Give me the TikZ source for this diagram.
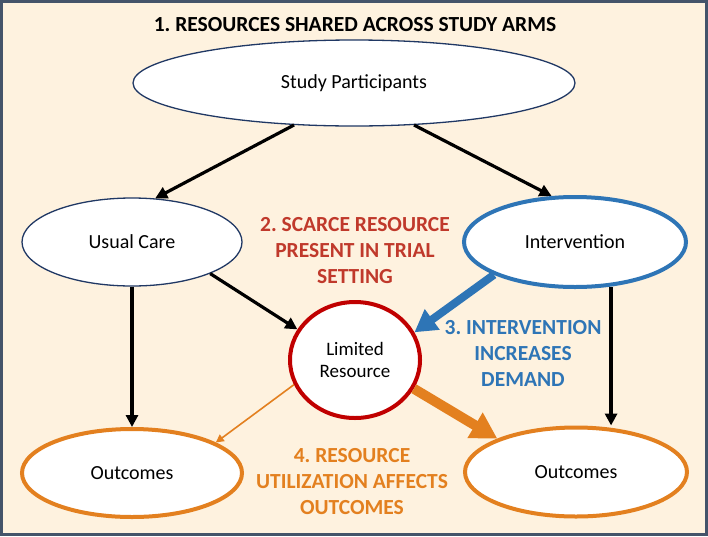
\documentclass[tikz,border=0pt]{standalone}
\usepackage{fontspec}
\setmainfont{Carlito}
\frenchspacing
\usetikzlibrary{shapes.geometric,arrows.meta}
\definecolor{bgc}{HTML}{FEF2DF}
\definecolor{framec}{HTML}{44546A}
\definecolor{navyc}{HTML}{203864}
\definecolor{bluec}{HTML}{2E75B6}
\definecolor{redc}{HTML}{C00000}
\definecolor{redtxt}{HTML}{C0392B}
\definecolor{orangec}{HTML}{E3801F}
\tikzset{
  x=1pt,y=-1pt,
  ell/.style={ellipse,fill=white,inner sep=0pt,align=center,font=\fontsize{20}{22}\selectfont},
  plainell/.style={ell,draw=navyc,line width=1.3pt},
  blueell/.style={ell,draw=bluec,line width=4pt},
  orangeell/.style={ell,draw=orangec,line width=4pt},
  redell/.style={ell,draw=redc,line width=4pt,font=\fontsize{19}{22}\selectfont},
  lbl/.style={align=center,font=\bfseries\fontsize{21.5}{26}\selectfont,inner sep=0pt},
  blk/.style={line width=3.2pt,-{Triangle[length=12pt,width=12pt]}},
}
\begin{document}
\begin{tikzpicture}
\path[fill=bgc,draw=framec,line width=3pt] (1.5,1.5) rectangle (706.5,534.5);
\useasboundingbox (0,0) rectangle (708,536);

\node[lbl] (title) at (355,25) {1. RESOURCES SHARED ACROSS STUDY ARMS};

\node[plainell,minimum width=442pt,minimum height=86pt] (sp) at (354,83) {Study Participants};
\node[plainell,minimum width=220pt,minimum height=88pt] (uc) at (132,242) {Usual Care};
\node[blueell,minimum width=222pt,minimum height=90pt] (int) at (575,242) {Intervention};
\node[redell,minimum width=130pt,minimum height=116pt] (lr) at (355,360) {Limited\\Resource};
\node[orangeell,minimum width=220pt,minimum height=88pt] (ol) at (132,473) {Outcomes};
\node[orangeell,minimum width=222pt,minimum height=89pt] (or) at (576,472) {Outcomes};

\node[lbl,text=redtxt] (t2) at (355,251) {2. SCARCE RESOURCE\\PRESENT IN TRIAL\\SETTING};
\node[lbl,text=bluec] (t3) at (523,353) {3. INTERVENTION\\INCREASES\\DEMAND};
\node[lbl,text=orangec] (t4) at (352,482) {4. RESOURCE\\UTILIZATION AFFECTS\\OUTCOMES};

\draw[blk] (sp.215) -- (uc.62);
\draw[blk] (sp.325) -- (int.117);
\draw[blk] (uc.338) -- (lr.152);
\draw[blk] (uc.south) -- (ol.north);
\draw[blk] (int.-51.5) -- (int.-51.5 |- or.north);
\draw[bluec,line width=8pt,-{Triangle[length=22pt,width=24pt]}] (int.202) -- (lr.25);
\draw[orangec,line width=1.6pt,-{Triangle[length=8pt,width=8pt]}] (lr.202) -- (ol.20);
\draw[orangec,line width=10pt,-{Triangle[length=26pt,width=28pt]}] (lr.334) -- (or.157);
\end{tikzpicture}
\end{document}
